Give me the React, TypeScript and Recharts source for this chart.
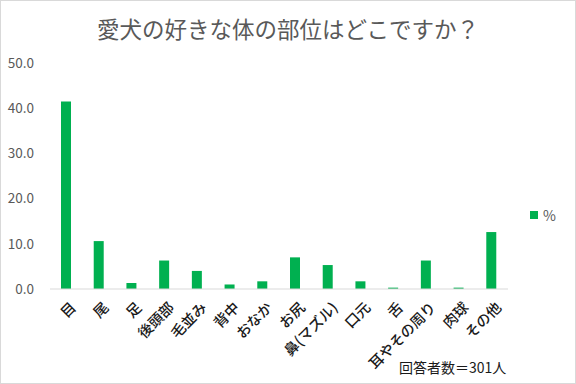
import { BarChart, Bar, XAxis, YAxis } from 'recharts'

const categories = ['目', '尾', '足', '後頭部', '毛並み', '背中', 'おなか', 'お尻', '鼻(マズル)', '口元', '舌', '耳やその周り', '肉球', 'その他']
const percents = [41.5, 10.6, 1.3, 6.3, 4.0, 1.0, 1.7, 7.0, 5.3, 1.7, 0.3, 6.3, 0.3, 12.6]
const yTicks = [0, 10, 20, 30, 40, 50]

const title = '愛犬の好きな体の部位はどこですか？'
const note = '回答者数＝301人'
const seriesName = '%'

const data = categories.map((name, i) => ({ name, value: percents[i] }))

const FONT = '"Noto Sans CJK JP", "Noto Sans", sans-serif'
const GRAY = '#595959'
const GREEN = '#00B050'

function AngledTick({ x, y, payload }: any) {
  return (
    <text
      transform={`translate(${x + 6},${y + 7}) rotate(-45)`}
      textAnchor="end"
      dominantBaseline="central"
      fontSize={14.5}
      fontWeight={500}
      fill="#1a1a1a"
      fontFamily={FONT}
    >
      {payload.value}
    </text>
  )
}

export default function App() {
  return (
    <div
      style={{
        position: 'absolute',
        left: 0,
        top: 0,
        width: 576,
        height: 384,
        boxSizing: 'border-box',
        border: '1px solid #d9d9d9',
        background: '#fff',
        fontFamily: FONT,
      }}
    >
      <div
        style={{
          position: 'absolute',
          top: 12,
          left: 0,
          width: 574,
          textAlign: 'center',
          fontSize: 22.5,
          color: GRAY,
          lineHeight: '30px',
        }}
      >
        {title}
      </div>
      <BarChart
        width={574}
        height={382}
        data={data}
        margin={{ top: 62, right: 67, bottom: 0, left: 0 }}
        style={{ position: 'absolute', left: 0, top: 0 }}
      >
        <XAxis
          dataKey="name"
          interval={0}
          height={94}
          tickLine={false}
          axisLine={{ stroke: '#d9d9d9' }}
          tick={<AngledTick />}
        />
        <YAxis
          domain={[0, 50]}
          ticks={yTicks}
          width={49}
          axisLine={false}
          tickLine={false}
          tickMargin={10}
          tickFormatter={(v: number) => v.toFixed(1)}
          tick={{ fontSize: 13.5, fill: GRAY, fontFamily: FONT }}
        />
        <Bar dataKey="value" name={seriesName} fill={GREEN} barSize={10} isAnimationActive={false} />
      </BarChart>
      <div
        style={{
          position: 'absolute',
          left: 529,
          top: 204,
          display: 'flex',
          alignItems: 'center',
          fontSize: 14,
          color: GRAY,
        }}
      >
        <span style={{ display: 'inline-block', width: 8, height: 8, background: GREEN, marginRight: 5 }} />
        {seriesName}
      </div>
      <div style={{ position: 'absolute', left: 398, top: 356, fontSize: 14, color: '#1a1a1a' }}>{note}</div>
    </div>
  )
}
